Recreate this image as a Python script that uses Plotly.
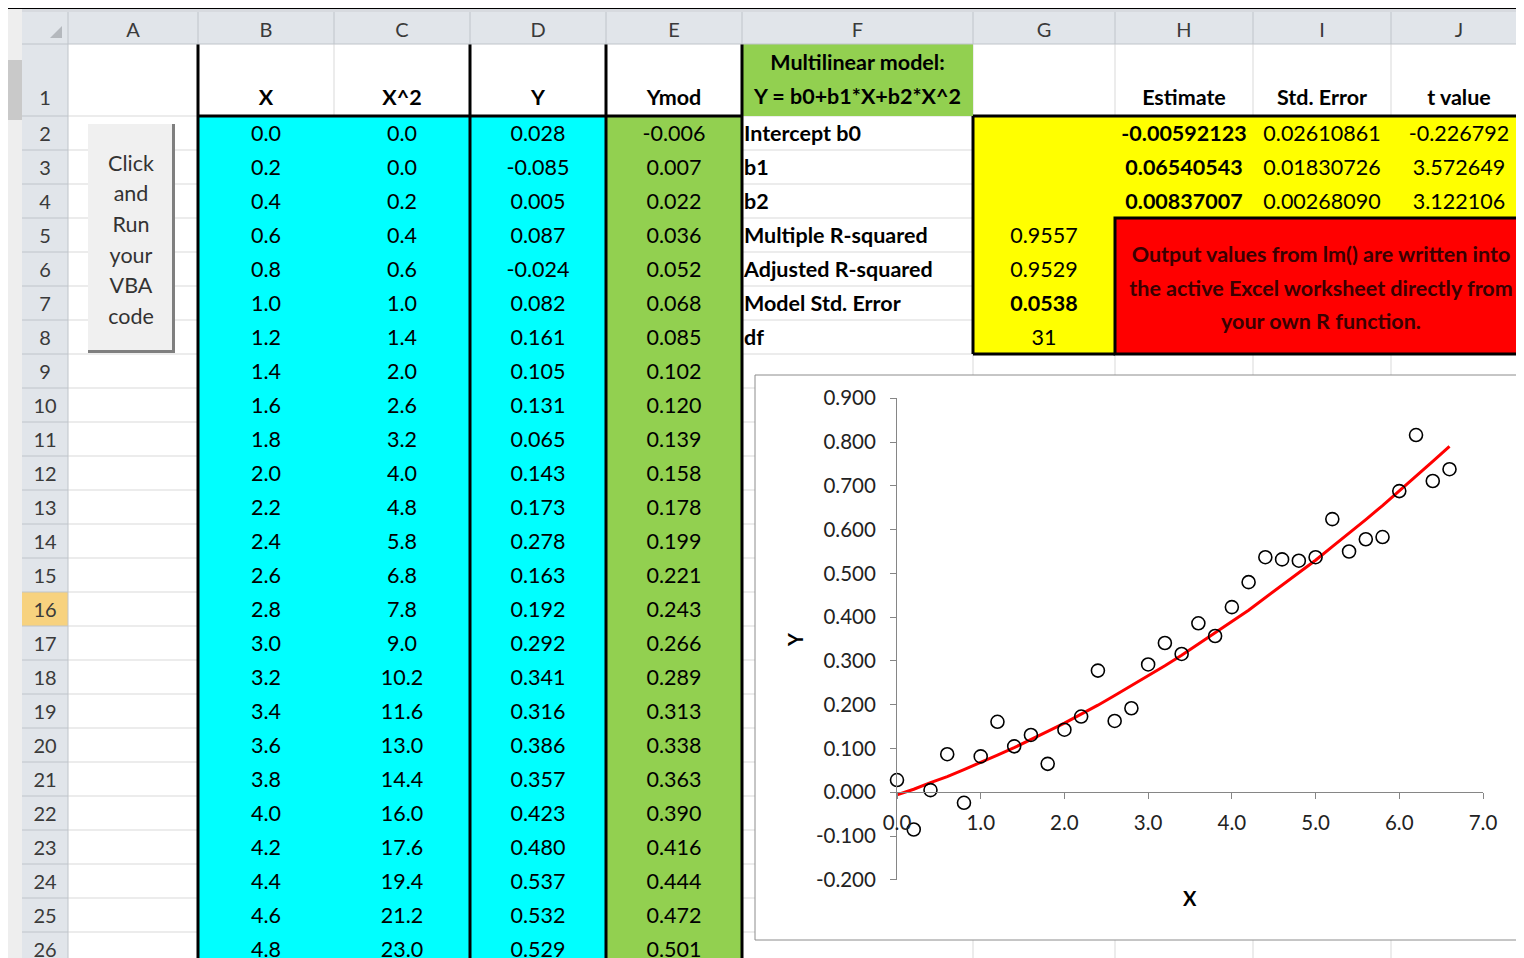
import plotly.graph_objects as go

X_VALS = [0.0, 0.2, 0.4, 0.6, 0.8, 1.0, 1.2, 1.4, 1.6, 1.8, 2.0, 2.2, 2.4, 2.6, 2.8, 3.0, 3.2,
          3.4, 3.6, 3.8, 4.0, 4.2, 4.4, 4.6, 4.8, 5.0, 5.2, 5.4, 5.6, 5.8, 6.0, 6.2, 6.4, 6.6]
X_SQ = [0.0, 0.04, 0.16, 0.36, 0.64, 1.0, 1.44, 1.96, 2.56, 3.24, 4.0, 4.84, 5.76, 6.76, 7.84, 9.0, 10.24,
        11.56, 12.96, 14.44, 16.0, 17.64, 19.36, 21.16, 23.04]
Y_OBS = [0.028, -0.085, 0.005, 0.087, -0.024, 0.082, 0.161, 0.105, 0.131, 0.065, 0.143, 0.173, 0.278,
         0.163, 0.192, 0.292, 0.341, 0.316, 0.386, 0.357, 0.423, 0.480, 0.537, 0.532, 0.529,
         0.537, 0.624, 0.550, 0.578, 0.583, 0.688, 0.816, 0.711, 0.738]
Y_MOD = [-0.006, 0.007, 0.022, 0.036, 0.052, 0.068, 0.085, 0.102, 0.120, 0.139, 0.158, 0.178, 0.199,
         0.221, 0.243, 0.266, 0.289, 0.313, 0.338, 0.363, 0.390, 0.416, 0.444, 0.472, 0.501,
         0.530, 0.561, 0.591, 0.623, 0.655, 0.688, 0.721, 0.756, 0.790]

COEF_NAMES = ['Intercept b0', 'b1', 'b2']
ESTIMATE = [-0.00592123, 0.06540543, 0.00837007]
STD_ERROR = [0.02610861, 0.01830726, 0.00268090]
T_VALUE = [-0.226792, 3.572649, 3.122106]
FIT_NAMES = ['Multiple R-squared', 'Adjusted R-squared', 'Model Std. Error', 'df']
FIT_VALUES = ['0.9557', '0.9529', '0.0538', '31']

COL_LETTERS = ['A', 'B', 'C', 'D', 'E', 'F', 'G', 'H', 'I', 'J']
HEADERS = ['X', 'X^2', 'Y', 'Ymod']
BUTTON_WORDS = ['Click', 'and', 'Run', 'your', 'VBA', 'code']
NOTE_LINES = ['Output values from lm() are written into',
              'the active Excel worksheet directly from',
              'your own R function.']
Y_TICKS = [-0.2, -0.1, 0.0, 0.1, 0.2, 0.3, 0.4, 0.5, 0.6, 0.7, 0.8, 0.9]
X_TICKS = [0, 1, 2, 3, 4, 5, 6, 7]

# ---- sheet geometry (screen pixels) ----
W, H = 1524, 958
OFF = 8          # page body margin: figure starts 8px in from the window corner
TEXT_DY = 2.5    # nudge so text sits where Excel centres it
COL_L = [68, 198, 334, 470, 606, 742, 973, 1115, 1253, 1391]
COL_R = COL_L[1:] + [1527]
HDR_TOP, HDR_BOT = 12, 44
ROW1_BOT = 116
ROW_H = 34
N_ROWS = 26
FONT = 'Lato'
CELL_SIZE = 21.5
GRID = '#D9D9D9'
HDR_BG = '#E1E5EA'
HDR_LINE = '#BFC4CA'


def col_center(letter):
    i = COL_LETTERS.index(letter)
    return (COL_L[i] + COL_R[i]) / 2


def col_left(letter):
    return COL_L[COL_LETTERS.index(letter)]


def col_right(letter):
    return COL_R[COL_LETTERS.index(letter)]


def row_top(r):
    return HDR_BOT if r == 1 else ROW1_BOT + (r - 2) * ROW_H


def row_bot(r):
    return ROW1_BOT if r == 1 else row_top(r) + ROW_H


def row_mid(r):
    return 97 if r == 1 else row_top(r) + ROW_H / 2


def px_x(p):
    return (p - OFF) / W


def px_y(p):
    return 1 - (p - OFF) / H


shapes = []


def rect(x0, y0, x1, y1, fill, line=None, width=0):
    shapes.append(dict(type='rect', xref='x', yref='y', x0=x0, y0=y0, x1=x1, y1=y1,
                       fillcolor=fill, layer='below',
                       line=dict(color=line or fill, width=width)))


def seg(x0, y0, x1, y1, color, width):
    shapes.append(dict(type='line', xref='x', yref='y', x0=x0, y0=y0, x1=x1, y1=y1,
                       layer='below', line=dict(color=color, width=width)))


# gridlines
for r in range(1, N_ROWS + 1):
    seg(68, row_bot(r), W + OFF, row_bot(r), GRID, 1)
for x in COL_R:
    seg(x, HDR_BOT, x, H + OFF, GRID, 1)

# cell fills
last = row_bot(N_ROWS)
rect(col_left('B'), ROW1_BOT, col_right('D'), last, '#00FFFF')
rect(col_left('E'), ROW1_BOT, col_right('E'), last, '#92D050')
rect(col_left('F'), HDR_BOT, col_right('F'), ROW1_BOT, '#92D050')
rect(col_left('G'), row_top(2), col_right('J'), row_bot(4), '#FFFF00')
rect(col_left('G'), row_top(5), col_right('G'), row_bot(8), '#FFFF00')

# thick borders
for letter in ['B', 'D', 'E', 'F']:
    seg(col_left(letter), HDR_BOT, col_left(letter), H + OFF, 'black', 3)
seg(col_left('B'), ROW1_BOT, col_right('E'), ROW1_BOT, 'black', 3)
seg(col_left('G'), row_top(2), W + OFF, row_top(2), 'black', 3)
seg(col_left('G'), row_top(2), col_left('G'), row_bot(8), 'black', 3)
seg(col_left('G'), row_bot(8), col_left('H'), row_bot(8), 'black', 3)
rect(col_left('H'), row_top(5), col_right('J'), row_bot(8), '#FF0000', 'black', 3)

# window chrome / headers
rect(6, 8, 22, H + OFF, '#EEEEEE')
rect(6, 60, 22, 120, '#C9C9C9')
rect(22, 8, W + OFF, HDR_TOP, '#D7DADF')
rect(22, HDR_TOP, W + OFF, HDR_BOT, HDR_BG)
rect(22, HDR_BOT, 68, H + OFF, HDR_BG)
rect(22, row_top(16), 68, row_bot(16), '#F7D27F')
seg(22, HDR_BOT, W + OFF, HDR_BOT, HDR_LINE, 1)
seg(68, HDR_TOP, 68, H + OFF, HDR_LINE, 1)
for x in COL_R:
    seg(x, HDR_TOP, x, HDR_BOT, HDR_LINE, 1)
for r in range(1, N_ROWS + 1):
    seg(22, row_bot(r), 68, row_bot(r), HDR_LINE, 1)
shapes.append(dict(type='path', xref='x', yref='y', layer='below',
                   path='M 62 26 L 62 38 L 50 38 Z', fillcolor='#B4B8BD', line=dict(width=0)))
seg(OFF, 8, W + OFF, 8, 'black', 2)

# button
rect(88, 124, 175, 353, '#7F7F7F')
rect(88, 124, 172, 350, '#F0F0F0')

# chart area
rect(755, 375, 1522, 940, 'white', '#8C8C8C', 1)

fig = go.Figure()


def text_trace(xs, ys, texts, pos='middle center', size=CELL_SIZE, color='black'):
    fig.add_trace(go.Scatter(x=xs, y=[y + TEXT_DY for y in ys], mode='text', text=texts,
                             textposition=pos,
                             textfont=dict(family=FONT, size=size, color=color),
                             hoverinfo='skip', showlegend=False, xaxis='x', yaxis='y'))


# headers
text_trace([col_center(c) for c in COL_LETTERS], [29] * len(COL_LETTERS), COL_LETTERS,
           size=20, color='#3A3A3A')
text_trace([45] * N_ROWS, [row_mid(r) for r in range(1, N_ROWS + 1)],
           [str(r) for r in range(1, N_ROWS + 1)], size=20, color='#3A3A3A')

# data columns
data_rows = list(range(2, N_ROWS + 1))
text_trace([col_center(c) for c in ['B', 'C', 'D', 'E']], [97] * 4,
           ['<b>%s</b>' % h for h in HEADERS])
text_trace([col_center('B')] * len(data_rows), [row_mid(r) for r in data_rows],
           ['%.1f' % v for v in X_VALS[:len(data_rows)]])
text_trace([col_center('C')] * len(data_rows), [row_mid(r) for r in data_rows],
           ['%.1f' % v for v in X_SQ[:len(data_rows)]])
text_trace([col_center('D')] * len(data_rows), [row_mid(r) for r in data_rows],
           ['%.3f' % v for v in Y_OBS[:len(data_rows)]])
text_trace([col_center('E')] * len(data_rows), [row_mid(r) for r in data_rows],
           ['%.3f' % v for v in Y_MOD[:len(data_rows)]])

# model block
text_trace([col_center('F')] * 2, [62, 96],
           ['<b>Multilinear model:</b>', '<b>Y = b0+b1*X+b2*X^2</b>'])
text_trace([col_center(c) for c in ['H', 'I', 'J']], [97] * 3,
           ['<b>Estimate</b>', '<b>Std. Error</b>', '<b>t value</b>'])
text_trace([744] * 7, [row_mid(r) for r in range(2, 9)],
           ['<b>%s</b>' % s for s in COEF_NAMES + FIT_NAMES], pos='middle right')
text_trace([col_center('H')] * 3, [row_mid(r) for r in range(2, 5)],
           ['<b>%.8f</b>' % v for v in ESTIMATE])
text_trace([col_center('I')] * 3, [row_mid(r) for r in range(2, 5)],
           ['%.8f' % v for v in STD_ERROR])
text_trace([col_center('J')] * 3, [row_mid(r) for r in range(2, 5)],
           ['%.6f' % v for v in T_VALUE])
text_trace([col_center('G')] * 4, [row_mid(r) for r in range(5, 9)],
           [('<b>%s</b>' % v) if i == 2 else v for i, v in enumerate(FIT_VALUES)])
text_trace([1321] * 3, [254, 288, 321], ['<b>%s</b>' % s for s in NOTE_LINES], color='#3A0000')
text_trace([131] * len(BUTTON_WORDS), [163 + 30.6 * i for i in range(len(BUTTON_WORDS))],
           BUTTON_WORDS, color='#333333')

# chart
fig.add_trace(go.Scatter(x=X_VALS, y=Y_MOD, mode='lines', xaxis='x2', yaxis='y2',
                         line=dict(color='#FF0000', width=3), showlegend=False,
                         cliponaxis=False, name='Ymod'))
fig.add_trace(go.Scatter(x=X_VALS, y=Y_OBS, mode='markers', xaxis='x2', yaxis='y2',
                         marker=dict(symbol='circle-open', size=13, color='black',
                                     line=dict(width=1.6)),
                         showlegend=False, cliponaxis=False, name='Y'))

y0_px = 792.3
px_per_unit = 437.8
top_px = y0_px - 0.9 * px_per_unit
bot_px = y0_px + 0.2 * px_per_unit
tick_font = dict(family=FONT, size=20.5, color='#222222')

fig.update_layout(
    template='none',
    width=W, height=H,
    margin=dict(l=0, r=0, t=0, b=0, pad=0, autoexpand=False),
    paper_bgcolor='white', plot_bgcolor='white',
    shapes=shapes,
    showlegend=False,
    font=dict(family=FONT, color='black'),
    xaxis=dict(domain=[0, 1], range=[OFF, W + OFF], visible=False, fixedrange=True, automargin=False),
    yaxis=dict(domain=[0, 1], range=[H + OFF, OFF], visible=False, fixedrange=True, automargin=False),
    xaxis2=dict(domain=[px_x(897), px_x(1483)], range=[0, 7], anchor='free', position=px_y(y0_px),
                tickvals=X_TICKS, ticktext=['%.1f' % v for v in X_TICKS],
                showgrid=False, zeroline=False, automargin=False,
                showline=True, linecolor='#868686', linewidth=1,
                ticks='outside', ticklen=6, tickcolor='#868686', ticklabelstandoff=6,
                tickfont=tick_font),
    yaxis2=dict(domain=[px_y(bot_px), px_y(top_px)], range=[-0.2, 0.9], anchor='x2',
                tickvals=Y_TICKS, ticktext=['%.3f' % v for v in Y_TICKS],
                showgrid=False, zeroline=False, automargin=False,
                showline=True, linecolor='#868686', linewidth=1,
                ticks='outside', ticklen=6, tickcolor='#868686', ticklabelstandoff=10,
                tickfont=tick_font),
    annotations=[
        dict(xref='x', yref='y', x=795, y=640, text='<b>Y</b>', showarrow=False, textangle=-90,
             font=dict(family=FONT, size=20)),
        dict(xref='x', yref='y', x=1190, y=898, text='<b>X</b>', showarrow=False,
             font=dict(family=FONT, size=20)),
    ],
)

fig.write_html("out.html")
